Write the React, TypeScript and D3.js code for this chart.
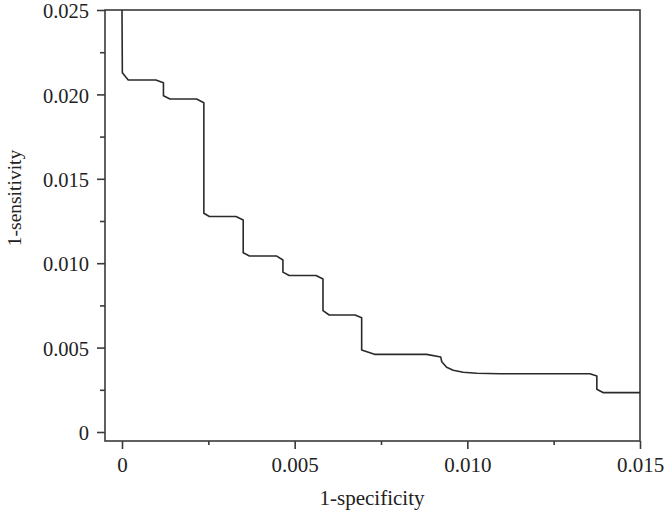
import React, { useRef, useEffect } from "react";
import * as d3 from "d3";

// ROC-like error curve
const fpr = [0, 0.00001, 0.00018, 0.00098, 0.0012, 0.0012, 0.00139, 0.00216, 0.00237, 0.00237,
  0.00253, 0.0033, 0.00351, 0.00351, 0.00369, 0.00447, 0.00466, 0.00466, 0.00484, 0.00562,
  0.00582, 0.00582, 0.006, 0.00675, 0.00694, 0.00694, 0.00731, 0.00882, 0.00923, 0.00926,
  0.0094, 0.00959, 0.00988, 0.01027, 0.01095, 0.01355, 0.01375, 0.01375, 0.01394, 0.015];
const fnr = [0.025, 0.02128, 0.02085, 0.02085, 0.02069, 0.01992, 0.01973, 0.01973, 0.01951, 0.01296,
  0.01277, 0.01277, 0.01256, 0.01062, 0.01043, 0.01043, 0.01019, 0.00947, 0.00927, 0.00927,
  0.00906, 0.00719, 0.00693, 0.00693, 0.00677, 0.00486, 0.0046, 0.0046, 0.00444, 0.00416,
  0.00383, 0.00366, 0.00354, 0.00348, 0.00345, 0.00345, 0.00332, 0.00253, 0.00233, 0.00233];

const xTicks = [0, 0.005, 0.01, 0.015];
const xTickLabels = ["0", "0.005", "0.010", "0.015"];
const xMinor = [0.0025, 0.0075, 0.0125];
const yTicks = [0, 0.005, 0.01, 0.015, 0.02, 0.025];
const yTickLabels = ["0", "0.005", "0.010", "0.015", "0.020", "0.025"];
const yMinor = [0.0025, 0.0075, 0.0125, 0.0175, 0.0225];

export default function App() {
  const svgRef = useRef(null);

  useEffect(() => {
    const svg = d3.select(svgRef.current);
    svg.selectAll("*").remove();

    const left = 105, right = 640, top = 10, bottom = 441;
    const axisColor = "#3a3a3a";
    const font = "'Liberation Serif', 'Times New Roman', serif";

    const x = d3.scaleLinear().domain([0, 0.015]).range([122, 640]);
    const y = d3.scaleLinear().domain([0, 0.025]).range([432, 10]);

    // frame
    svg.append("rect")
      .attr("x", left).attr("y", top)
      .attr("width", right - left).attr("height", bottom - top)
      .attr("fill", "none").attr("stroke", axisColor).attr("stroke-width", 1.6);

    // x axis
    const xAxis = svg.append("g").attr("transform", `translate(0,${bottom})`);
    xAxis.append("g")
      .call(d3.axisBottom(x).tickValues(xTicks).tickSize(8).tickSizeOuter(0)
        .tickFormat((d, i) => xTickLabels[i]))
      .call(g => g.select(".domain").remove())
      .call(g => g.selectAll("line").attr("stroke", axisColor).attr("stroke-width", 1.6))
      .call(g => g.selectAll("text").attr("fill", "#222").attr("font-size", 21)
        .attr("font-family", font).attr("dy", "0.71em").attr("y", 16));
    xAxis.append("g")
      .call(d3.axisBottom(x).tickValues(xMinor).tickSize(4).tickFormat(() => ""))
      .call(g => g.select(".domain").remove())
      .call(g => g.selectAll("line").attr("stroke", axisColor).attr("stroke-width", 1.6));

    // y axis
    const yAxis = svg.append("g").attr("transform", `translate(${left},0)`);
    yAxis.append("g")
      .call(d3.axisLeft(y).tickValues(yTicks).tickSize(8).tickSizeOuter(0)
        .tickFormat((d, i) => yTickLabels[i]))
      .call(g => g.select(".domain").remove())
      .call(g => g.selectAll("line").attr("stroke", axisColor).attr("stroke-width", 1.6))
      .call(g => g.selectAll("text").attr("fill", "#222").attr("font-size", 20.5)
        .attr("font-family", font).attr("x", -16).attr("dy", "0.38em"));
    yAxis.append("g")
      .call(d3.axisLeft(y).tickValues(yMinor).tickSize(5).tickFormat(() => ""))
      .call(g => g.select(".domain").remove())
      .call(g => g.selectAll("line").attr("stroke", axisColor).attr("stroke-width", 1.6));

    // curve
    const pts = fpr.map((v, i) => [v, fnr[i]]);
    svg.append("path")
      .datum(pts)
      .attr("fill", "none")
      .attr("stroke", "#2a2a2a")
      .attr("stroke-width", 1.6)
      .attr("stroke-linejoin", "round")
      .attr("d", d3.line().x(d => x(d[0])).y(d => y(d[1])));

    // titles
    svg.append("text")
      .attr("x", 372).attr("y", 505)
      .attr("text-anchor", "middle")
      .attr("font-family", font).attr("font-size", 21).attr("fill", "#222")
      .text("1-specificity");
    svg.append("text")
      .attr("transform", "translate(21,198) rotate(-90)")
      .attr("text-anchor", "middle")
      .attr("font-family", font).attr("font-size", 19.5).attr("fill", "#222")
      .text("1-sensitivity");
  }, []);

  return (
    <div style={{ position: "absolute", left: 0, top: 0 }}>
      <svg ref={svgRef} width={664} height={514} style={{ display: "block", background: "#fff" }} />
    </div>
  );
}
